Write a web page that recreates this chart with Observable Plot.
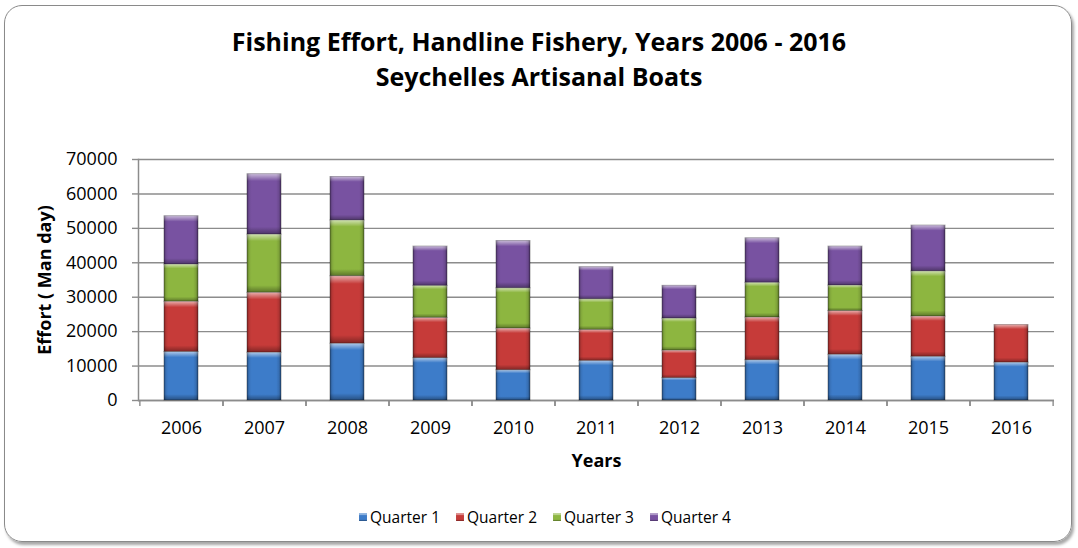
<!DOCTYPE html>
<html><head><meta charset="utf-8">
<script src="https://cdn.jsdelivr.net/npm/d3@7"></script>
<script src="https://cdn.jsdelivr.net/npm/@observablehq/plot@0.6"></script>
<style>
body{margin:0;background:#fff;font-family:"Open Sans",sans-serif;}
#wrap{position:relative;width:1078px;height:548px;overflow:hidden;background:#fff;}
#frame{position:absolute;left:4px;top:5px;width:1066px;height:535px;border:1.5px solid #8a8a8a;border-radius:18px;box-shadow:2px 3px 3px rgba(0,0,0,0.35);pointer-events:none;}
#title{position:relative;height:100px;}
.t{position:absolute;left:0;width:1078px;text-align:center;font-weight:bold;font-size:25px;line-height:30px;color:#000;}
#chart{height:400px;}
#legend{height:34px;display:flex;justify-content:center;align-items:center;font-size:15.5px;color:#000;padding-left:12px;}
.item{display:flex;align-items:center;margin:0 8px;}
.sw{width:8px;height:8px;margin-right:3px;box-shadow:inset 0 2px 1px rgba(255,255,255,0.45), inset 0 -1px 1px rgba(0,0,0,0.3);}
</style></head>
<body>
<svg width="0" height="0" style="position:absolute">
<defs>
<linearGradient id="bevelV" x1="0" y1="0" x2="0" y2="1">
<stop offset="0" stop-color="#fff" stop-opacity="0.6"/>
<stop offset="0.07" stop-color="#fff" stop-opacity="0.25"/>
<stop offset="0.12" stop-color="#fff" stop-opacity="0"/>
<stop offset="0.88" stop-color="#000" stop-opacity="0"/>
<stop offset="1" stop-color="#000" stop-opacity="0.35"/>
</linearGradient>
<linearGradient id="bevelH" x1="0" y1="0" x2="1" y2="0">
<stop offset="0" stop-color="#000" stop-opacity="0.3"/>
<stop offset="0.08" stop-color="#000" stop-opacity="0.05"/>
<stop offset="0.14" stop-color="#000" stop-opacity="0"/>
<stop offset="0.86" stop-color="#000" stop-opacity="0"/>
<stop offset="0.93" stop-color="#000" stop-opacity="0.1"/>
<stop offset="1" stop-color="#000" stop-opacity="0.35"/>
</linearGradient>
</defs>
</svg>
<div id="wrap">
<div id="frame"></div>
<div id="title">
<div class="t" style="top:26px">Fishing Effort, Handline Fishery, Years 2006 - 2016</div>
<div class="t" style="top:61px">Seychelles Artisanal Boats</div>
</div>
<div id="chart"></div>
<div id="legend"></div>
</div>
<script>
const years = ["2006","2007","2008","2009","2010","2011","2012","2013","2014","2015","2016"];
const quarters = ["Quarter 1","Quarter 2","Quarter 3","Quarter 4"];
const q1 = [14100, 13900, 16500, 12300, 8800, 11500, 6500, 11700, 13300, 12700, 11000];
const q2 = [14600, 17400, 19600, 11700, 12100, 9000, 8000, 12400, 12700, 11700, 10900];
const q3 = [10800, 16900, 16200, 9300, 11700, 8900, 9300, 10100, 7400, 13100, null];
const q4 = [14000, 17500, 12600, 11400, 13700, 9300, 9500, 12900, 11300, 13300, null];
const yTicks = [0, 10000, 20000, 30000, 40000, 50000, 60000, 70000];
const colors = ["#3d7cc9", "#c63b39", "#8db640", "#7852a1"];

const series = [q1, q2, q3, q4];
const data = [];
years.forEach((y, i) => series.forEach((s, k) => {
  if (s[i] != null) data.push({year: y, quarter: quarters[k], value: s[i]});
}));

const W = 1078, ML = 138, MR = 24;
const step = (W - ML - MR) / years.length;
const grey = "#8c8c8c";

const chart = Plot.plot({
  width: W, height: 400,
  marginLeft: ML, marginRight: MR, marginTop: 59, marginBottom: 100,
  x: {domain: years, paddingInner: 0.59, paddingOuter: 0.295, label: null},
  y: {domain: [0, 70000], label: null},
  color: {domain: quarters, range: colors},
  style: {fontFamily: "Open Sans", fontSize: "18px", color: "#000", background: "transparent", overflow: "visible"},
  marks: [
    Plot.gridY(yTicks, {stroke: grey, strokeOpacity: 1, strokeWidth: 1.4}),
    Plot.ruleY([0], {stroke: grey, strokeWidth: 1.5}),
    Plot.frame({anchor: "left", stroke: grey, strokeWidth: 1.5}),
    Plot.axisY(yTicks, {tickSize: 6, tickPadding: 15, tickFormat: d => String(d), stroke: grey, strokeWidth: 1.4, label: null}),
    Plot.axisX({tickSize: 6, tickFormat: null, dx: -step / 2, stroke: grey, strokeWidth: 1.4, label: null}),
    Plot.axisX({tickSize: 6, tickFormat: null, dx: step / 2, stroke: grey, strokeWidth: 1.4, label: null}),
    Plot.axisX({tickSize: 0, tickPadding: 21, label: null}),
    Plot.barY(data, {x: "year", y: "value", fill: "quarter", stroke: "rgba(0,0,0,0.35)", strokeWidth: 1}),
    Plot.barY(data, {x: "year", y: "value", fill: "url(#bevelV)"}),
    Plot.barY(data, {x: "year", y: "value", fill: "url(#bevelH)"}),
    Plot.text(["Years"], {frameAnchor: "bottom", lineAnchor: "middle", textAnchor: "middle", dy: 61, fontWeight: "bold", fontSize: 18}),
    Plot.text(["Effort ( Man day)"], {frameAnchor: "left", textAnchor: "middle", lineAnchor: "middle", rotate: -90, dx: -93, fontWeight: "bold", fontSize: 18})
  ]
});
document.getElementById("chart").appendChild(chart);

const legend = document.getElementById("legend");
quarters.forEach((q, k) => {
  const it = document.createElement("div");
  it.className = "item";
  const sw = document.createElement("span");
  sw.className = "sw";
  sw.style.background = colors[k];
  const tx = document.createElement("span");
  tx.textContent = q;
  it.appendChild(sw); it.appendChild(tx);
  legend.appendChild(it);
});
</script>
</body></html>
